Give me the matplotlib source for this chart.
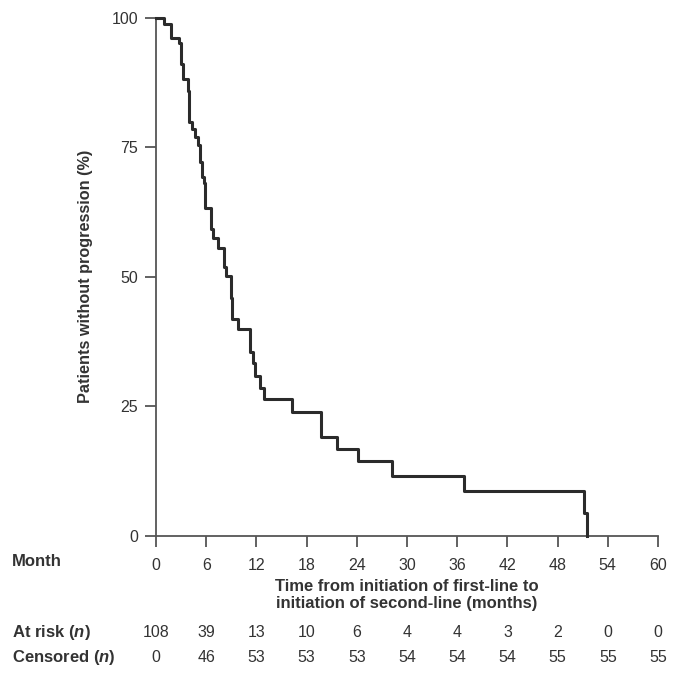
import matplotlib
matplotlib.use('Agg')
import matplotlib.pyplot as plt
import matplotlib.transforms as mtransforms

# Kaplan-Meier steps
times = [0, 0.96, 1.76, 2.78, 2.99, 3.26, 3.86, 3.98, 4.34, 4.69, 5.05, 5.26,
         5.50, 5.77, 5.88, 6.57, 6.85, 7.44, 8.16, 8.35, 8.96, 9.12, 9.83,
         11.22, 11.55, 11.86, 12.46, 12.87, 16.3, 19.77, 21.6, 24.16, 28.2,
         36.8, 51.2, 51.5]
surv = [100, 98.7, 96.1, 95.0, 91.0, 88.1, 85.9, 79.8, 78.4, 76.9, 75.4, 72.1,
        69.3, 68.0, 63.3, 59.2, 57.5, 55.6, 51.8, 50.2, 45.9, 41.9, 39.9,
        35.4, 33.3, 30.9, 28.5, 26.4, 23.9, 19.1, 16.7, 14.4, 11.5,
        8.7, 4.5, 0]

months = [0, 6, 12, 18, 24, 30, 36, 42, 48, 54, 60]
at_risk = [108, 39, 13, 10, 6, 4, 4, 3, 2, 0, 0]
censored = [0, 46, 53, 53, 53, 54, 54, 54, 55, 55, 55]
yticks = [0, 25, 50, 75, 100]

plt.rcParams['font.family'] = ['Liberation Sans', 'DejaVu Sans']
plt.rcParams['mathtext.fontset'] = 'custom'
plt.rcParams['mathtext.it'] = 'Liberation Sans:italic:bold'
plt.rcParams['mathtext.rm'] = 'Liberation Sans:bold'

W = 678
fig = plt.figure(figsize=(6.78, 6.78), dpi=100)
ax = fig.add_axes([156 / W, 1 - 536 / W, 502 / W, 518.5 / W])

line_col = '#2b2b2b'
axis_col = '#555555'
txt_col = '#333333'

ax.step(times, surv, where='post', color=line_col, lw=2.2, clip_on=False, zorder=3)

ax.set_xlim(0, 60)
ax.set_ylim(0, 100)
ax.set_xticks(months)
ax.set_xticklabels([str(m) for m in months])
ax.set_yticks(yticks)
for s in ['top', 'right']:
    ax.spines[s].set_visible(False)
for s in ['left', 'bottom']:
    ax.spines[s].set_color(axis_col)
    ax.spines[s].set_linewidth(1.3)
ax.tick_params(axis='both', colors=axis_col, length=8, width=1.3,
               labelcolor=txt_col)
ax.tick_params(axis='x', pad=8, labelsize=11.5)
ax.tick_params(axis='y', pad=5, labelsize=11.5)

ax.set_ylabel('Patients without progression (%)', fontsize=11.7, fontweight='bold',
              color=txt_col, labelpad=13)

# at-risk table and x label
trans = mtransforms.blended_transform_factory(ax.transData, fig.transFigure)
fig.text(12 / W, 1 - 562 / W, 'Month', fontsize=12, fontweight='bold',
         color=txt_col, va='center', ha='left')
fig.text((156 + 658) / 2 / W, 1 - 595 / W,
         'Time from initiation of first-line to\ninitiation of second-line (months)',
         fontsize=12, fontweight='bold', color=txt_col, ha='center', va='center',
         linespacing=1.2)

fig.text(12 / W, 1 - 632.5 / W, r'At risk ($n$)', fontsize=12, fontweight='bold',
         color=txt_col, va='center', ha='left')
fig.text(12 / W, 1 - 657.5 / W, r'Censored ($n$)', fontsize=12, fontweight='bold',
         color=txt_col, va='center', ha='left')
for m, r, c in zip(months, at_risk, censored):
    ax.text(m, 1 - 632.5 / W, str(r), transform=trans, ha='center', va='center',
            fontsize=11.5, color=txt_col)
    ax.text(m, 1 - 657.5 / W, str(c), transform=trans, ha='center', va='center',
            fontsize=11.5, color=txt_col)

fig.savefig('out.png', dpi=100, facecolor='white')
